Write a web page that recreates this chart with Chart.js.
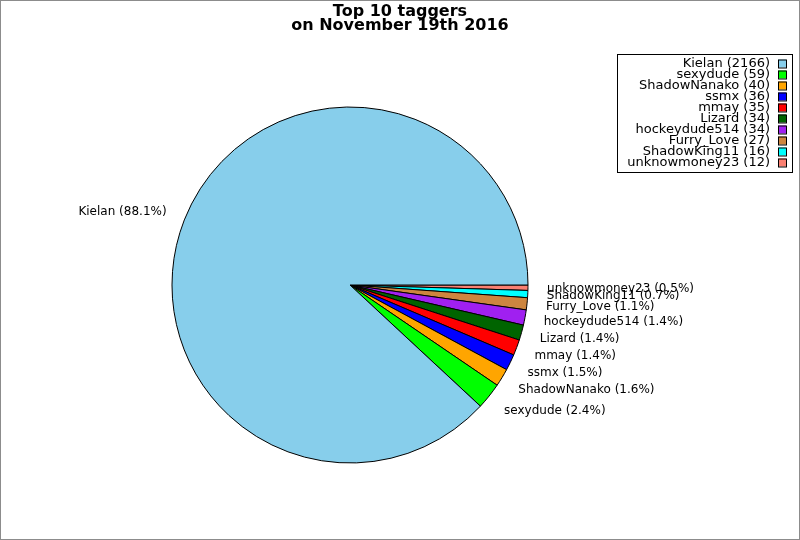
<!DOCTYPE html>
<html>
<head>
<meta charset="utf-8">
<script src="https://cdn.jsdelivr.net/npm/chart.js@4/dist/chart.umd.min.js"></script>
<style>
html,body{margin:0;padding:0;background:#fff;}
#wrap{width:800px;height:540px;}
</style>
</head>
<body>
<div id="wrap"><canvas id="c" width="800" height="540"></canvas></div>
<script>
const titleLines = ['Top 10 taggers', 'on November 19th 2016'];
const taggers = ['Kielan', 'sexydude', 'ShadowNanako', 'ssmx', 'mmay', 'Lizard', 'hockeydude514', 'Furry_Love', 'ShadowKing11', 'unknowmoney23'];
const tagCounts = [2166, 59, 40, 36, 35, 34, 34, 27, 16, 12];
const sliceColors = ['#87CEEB', '#00FF00', '#FFA500', '#0000FF', '#FF0000', '#006400', '#A020F0', '#CD853F', '#00FFFF', '#FA8072'];

const total = tagCounts.reduce((a, b) => a + b, 0);
// reference pie runs counter-clockwise from 3 o'clock; Chart.js runs clockwise, so feed reversed order
const revLabels = taggers.slice().reverse();
const revValues = tagCounts.slice().reverse();
const revColors = sliceColors.slice().reverse();

const decorPlugin = {
  id: 'decor',
  beforeDraw(chart) {
    const ctx = chart.ctx;
    ctx.save();
    ctx.fillStyle = '#fff';
    ctx.fillRect(0, 0, chart.width, chart.height);
    ctx.strokeStyle = '#8c8c8c';
    ctx.lineWidth = 1;
    ctx.strokeRect(0.5, 0.5, chart.width - 1, chart.height - 1);
    ctx.restore();
  },
  afterDraw(chart) {
    const ctx = chart.ctx;
    ctx.save();
    // title
    ctx.fillStyle = '#000';
    ctx.font = 'bold 16px "DejaVu Sans"';
    ctx.textAlign = 'center';
    ctx.textBaseline = 'alphabetic';
    ctx.fillText(titleLines[0], 400, 16);
    ctx.fillText(titleLines[1], 400, 30);

    // slice labels
    const meta = chart.getDatasetMeta(0);
    ctx.font = '12px "DejaVu Sans"';
    ctx.textBaseline = 'middle';
    meta.data.forEach((arc, i) => {
      const p = arc.getProps(['x', 'y', 'startAngle', 'endAngle', 'outerRadius'], true);
      const mid = (p.startAngle + p.endAngle) / 2;
      const lx = p.x + Math.cos(mid) * p.outerRadius * 1.107;
      const ly = p.y + Math.sin(mid) * p.outerRadius * 1.13;
      const v = revValues[i];
      const txt = revLabels[i] + ' (' + (v / total * 100).toFixed(1) + '%)';
      ctx.textAlign = lx >= p.x ? 'left' : 'right';
      ctx.fillStyle = '#000';
      ctx.fillText(txt, lx, ly + 0.5);
    });

    // legend
    ctx.strokeStyle = '#000';
    ctx.lineWidth = 1;
    ctx.strokeRect(617.5, 54.5, 175, 118);
    ctx.font = '13px "DejaVu Sans"';
    ctx.textAlign = 'right';
    ctx.textBaseline = 'middle';
    taggers.forEach((name, i) => {
      const cy = 63.5 + 11 * i;
      ctx.fillStyle = '#000';
      ctx.fillText(name + ' (' + tagCounts[i] + ')', 770, cy + 0.5);
      ctx.fillStyle = sliceColors[i];
      ctx.fillRect(778, cy - 4, 8, 8);
      ctx.strokeStyle = '#000';
      ctx.strokeRect(778.5, cy - 3.5, 8, 8);
    });
    ctx.restore();
  }
};

new Chart(document.getElementById('c'), {
  type: 'pie',
  data: {
    labels: revLabels,
    datasets: [{
      data: revValues,
      backgroundColor: revColors,
      borderColor: '#000',
      borderWidth: 1,
      radius: 178
    }]
  },
  options: {
    responsive: false,
    devicePixelRatio: 1,
    animation: false,
    rotation: 90,
    layout: { padding: { left: 0, right: 100, top: 30, bottom: 0 } },
    plugins: {
      legend: { display: false },
      title: { display: false },
      tooltip: { enabled: false }
    },
    events: []
  },
  plugins: [decorPlugin]
});
</script>
</body>
</html>
